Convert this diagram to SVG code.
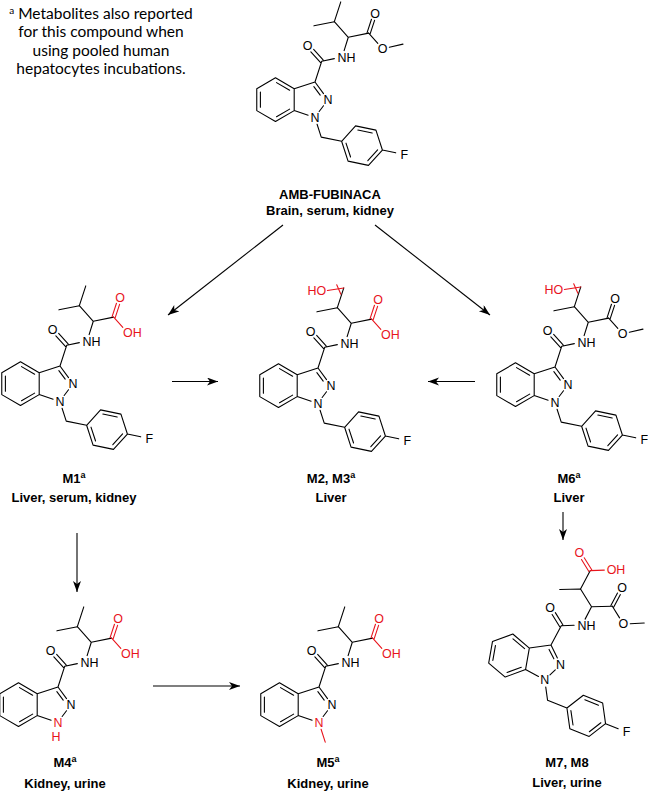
<svg xmlns="http://www.w3.org/2000/svg" xmlns:xlink="http://www.w3.org/1999/xlink" width="648" height="793" viewBox="0 0 648 793">
<style>
.b{fill:none;stroke:#000;stroke-width:1.05;stroke-linecap:round;stroke-linejoin:round}
.r{fill:none;stroke:#e8141c;stroke-width:1.05;stroke-linecap:round}
.a{font-family:"Liberation Sans",Arial,sans-serif;font-size:12px;text-anchor:middle;fill:#000}
.s{text-anchor:start}
.e{text-anchor:end}
.red{fill:#e8141c}
.lab{font-family:"Liberation Sans",Arial,sans-serif;font-size:13px;font-weight:bold;text-anchor:middle;fill:#000}
.note{font-family:Lato,"Liberation Sans",sans-serif;font-size:15.5px;text-anchor:middle;fill:#000}
.con{fill:none;stroke:#000;stroke-width:1.1}
</style>
<defs>
<marker id="ar" markerUnits="userSpaceOnUse" markerWidth="12" markerHeight="10" refX="11" refY="4" orient="auto">
<path d="M0,0 L11,4 L0,8 L3,4 Z" fill="#000"/>
</marker>
<g id="coreB">
<path class="b" d="M313,82 L321.2,93.2 M311.9,86.5 L318,94.6 M321.2,104.8 L317,110.4 M306.4,113.9 L293,109.5 L293,88.5 L313,82 M293,88.5 L275,78 L257,88.5 L257,109.5 L275,120 L293,109.5 M288.6,89.9 L276,82.6 M260.5,91.7 L260.5,106.3 M276,115.4 L288.6,108.1 M313,82 L319.5,62 M320.8,60.8 L311.7,50.6 M318.2,63.2 L309,53 M319.5,62 L331.6,59.5 M341,51.8 L345,39 L331.6,24 L312,28 M345,39 L364.6,35"/>
</g>
<g id="coreL">
<text class="a" x="325.4" y="103.3">N</text>
<text class="a s" x="334.7" y="62.3">NH</text>
<text class="a" x="306" y="51.3">O</text>
</g>
<path id="me2" class="b" d="M331.6,24 L337.8,5"/>
<path id="benzB" class="b" d="M315,122.6 L319,135 L338.6,139 M338.6,139 L352,124.2 L371.6,128.3 L377.8,147.4 L364.4,162.2 L344.8,158.1 Z M354.2,128.2 L368,131.1 M373.2,147.3 L363.8,157.7 M347.2,154.1 L342.8,140.8 M377.8,147.4 L390.6,150.1"/>
<path id="esterB" class="b" d="M366.1,35.5 L370.3,22.7 M363.1,34.5 L367.3,21.7 M364.6,35 L373.4,44.9 M384.5,48.6 L397.6,45.6"/>
<path id="acidB" class="r" d="M366.1,35.5 L370.3,22.7 M363.1,34.5 L367.3,21.7 M364.6,35 L373.4,44.9"/>
<g id="hydB">
<path class="b" d="M331.6,24 L337.8,5"/>
<path class="r" d="M322,7.5 L337.8,5 M331,2 L335,11"/>
</g>
<g id="n1L"><text class="a" x="313" y="120.3">N</text></g>
<g id="fL"><text class="a" x="399" y="155.9">F</text></g>
<g id="esterL"><text class="a" x="370.8" y="20.3">O</text><text class="a" x="378" y="54.3">O</text></g>
<g id="acidL"><text class="a red" x="370.8" y="20.3">O</text><text class="a s red" x="373.7" y="54.3">OH</text></g>
<g id="hydL"><text class="a e red" x="321" y="12">HO</text></g>
</defs>

<text class="note" x="101" y="19"><tspan font-size="10" dy="-5">a</tspan><tspan dy="5"> Metabolites also reported</tspan></text>
<text class="note" x="101" y="37">for this compound when</text>
<text class="note" x="101" y="55.5">using pooled human</text>
<text class="note" x="101" y="74">hepatocytes incubations.</text>

<g id="AMB-FUBINACA" transform="translate(315,82) scale(1.04) translate(-313,-82)">
<use xlink:href="#coreB"/><use xlink:href="#coreL"/><use xlink:href="#n1L"/><use xlink:href="#me2"/>
<use xlink:href="#benzB"/><use xlink:href="#fL"/><use xlink:href="#esterB"/><use xlink:href="#esterL"/>
</g>
<text class="lab" x="330" y="199">AMB-FUBINACA</text>
<text class="lab" x="330" y="215">Brain, serum, kidney</text>

<g id="M1" transform="translate(60,366) scale(1.04) translate(-313,-82)">
<use xlink:href="#coreB"/><use xlink:href="#coreL"/><use xlink:href="#n1L"/><use xlink:href="#me2"/>
<use xlink:href="#benzB"/><use xlink:href="#fL"/><use xlink:href="#acidB"/><use xlink:href="#acidL"/>
</g>
<text class="lab" x="74" y="483">M1<tspan font-size="9" dy="-5">a</tspan></text>
<text class="lab" x="74" y="502">Liver, serum, kidney</text>

<g id="M2" transform="translate(318,368) scale(1.04) translate(-313,-82)">
<use xlink:href="#coreB"/><use xlink:href="#coreL"/><use xlink:href="#n1L"/><use xlink:href="#hydB"/><use xlink:href="#hydL"/>
<use xlink:href="#benzB"/><use xlink:href="#fL"/><use xlink:href="#acidB"/><use xlink:href="#acidL"/>
</g>
<text class="lab" x="331" y="483">M2, M3<tspan font-size="9" dy="-5">a</tspan></text>
<text class="lab" x="331" y="502">Liver</text>

<g id="M6" transform="translate(555,367) scale(1.04) translate(-313,-82)">
<use xlink:href="#coreB"/><use xlink:href="#coreL"/><use xlink:href="#n1L"/><use xlink:href="#hydB"/><use xlink:href="#hydL"/>
<use xlink:href="#benzB"/><use xlink:href="#fL"/><use xlink:href="#esterB"/><use xlink:href="#esterL"/>
</g>
<text class="lab" x="569" y="483">M6<tspan font-size="9" dy="-5">a</tspan></text>
<text class="lab" x="569" y="502">Liver</text>

<g id="M7" transform="translate(551,645) rotate(10) scale(1.04) translate(-313,-82)">
<use xlink:href="#coreB"/><use xlink:href="#benzB"/><use xlink:href="#esterB"/>
<path class="b" d="M331.6,24 L337.8,5"/>
<path class="r" d="M339,3.9 L329.9,-6.1 M336.6,6.1 L327.6,-4 M337.8,5 L351,2.2"/>
<text class="a" x="325.4" y="103.3" transform="rotate(-10 325.4 99)">N</text>
<text class="a" x="313" y="120.3" transform="rotate(-10 313 116)">N</text>
<text class="a s" x="334.7" y="62.3" transform="rotate(-10 339 58)">NH</text>
<text class="a" x="306" y="51.3" transform="rotate(-10 306 47)">O</text>
<text class="a" x="370.8" y="20.3" transform="rotate(-10 370.8 16)">O</text>
<text class="a" x="378" y="54.3" transform="rotate(-10 378 50)">O</text>
<text class="a" x="399" y="155.9" transform="rotate(-10 399 151.6)">F</text>
<text class="a red" x="324.4" y="-5.6" transform="rotate(-10 324.4 -9.9)">O</text>
<text class="a s red" x="353.1" y="5.1" transform="rotate(-10 357.4 0.8)">OH</text>
</g>
<text class="lab" x="567" y="767">M7, M8</text>
<text class="lab" x="567" y="787">Liver, urine</text>

<g id="M4" transform="translate(58,687) scale(1.04) translate(-313,-82)">
<use xlink:href="#coreB"/><use xlink:href="#coreL"/><use xlink:href="#me2"/>
<use xlink:href="#acidB"/><use xlink:href="#acidL"/>
<text class="a red" x="313" y="120.3">N</text>
<text class="a red" x="311" y="133.5">H</text>
</g>
<text class="lab" x="65" y="767">M4<tspan font-size="9" dy="-5">a</tspan></text>
<text class="lab" x="65" y="788">Kidney, urine</text>

<g id="M5" transform="translate(319,687) scale(1.04) translate(-313,-82)">
<use xlink:href="#coreB"/><use xlink:href="#coreL"/><use xlink:href="#me2"/>
<use xlink:href="#acidB"/><use xlink:href="#acidL"/>
<text class="a red" x="313" y="120.3">N</text>
<path class="r" d="M315,122.6 L319,135"/>
</g>
<text class="lab" x="328" y="767">M5<tspan font-size="9" dy="-5">a</tspan></text>
<text class="lab" x="328" y="788">Kidney, urine</text>

<g id="connectors">
<path class="con" d="M283,225 L168,315" marker-end="url(#ar)"/>
<path class="con" d="M375,225 L490,315" marker-end="url(#ar)"/>
<path class="con" d="M172,381.5 L218,381.5" marker-end="url(#ar)"/>
<path class="con" d="M475,381.5 L428,381.5" marker-end="url(#ar)"/>
<path class="con" d="M77,533 L77,592" marker-end="url(#ar)"/>
<path class="con" d="M563,512 L563,540" marker-end="url(#ar)"/>
<path class="con" d="M153,686 L240,686" marker-end="url(#ar)"/>
</g>
</svg>
